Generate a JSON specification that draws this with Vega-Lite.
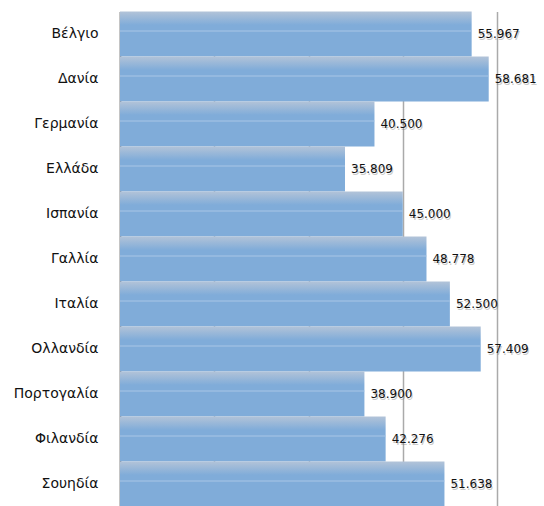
{
  "$schema": "https://vega.github.io/schema/vega-lite/v6.json",
  "autosize": "none",
  "width": 377,
  "height": 495,
  "padding": {"left": 120, "top": 11.5, "right": 47, "bottom": 0},
  "background": "white",
  "config": {"view": {"stroke": null}, "font": "DejaVu Sans"},
  "data": {
    "values": [
      {"country": "Βέλγιο", "value": 55.967},
      {"country": "Δανία", "value": 58.681},
      {"country": "Γερμανία", "value": 40.5},
      {"country": "Ελλάδα", "value": 35.809},
      {"country": "Ισπανία", "value": 45.0},
      {"country": "Γαλλία", "value": 48.778},
      {"country": "Ιταλία", "value": 52.5},
      {"country": "Ολλανδία", "value": 57.409},
      {"country": "Πορτογαλία", "value": 38.9},
      {"country": "Φιλανδία", "value": 42.276},
      {"country": "Σουηδία", "value": 51.638}
    ]
  },
  "encoding": {
    "y": {
      "field": "country",
      "type": "nominal",
      "sort": null,
      "scale": {"paddingInner": 0, "paddingOuter": 0},
      "axis": {
        "title": null,
        "ticks": false,
        "domainColor": "#555555",
        "domainWidth": 1.5,
        "labelPadding": 22,
        "labelFontSize": 14,
        "labelColor": "#111111",
        "labelFont": "DejaVu Sans"
      }
    }
  },
  "layer": [
    {
      "mark": {
        "type": "bar",
        "color": {
          "gradient": "linear",
          "x1": 0, "y1": 0, "x2": 0, "y2": 1,
          "stops": [
            {"offset": 0, "color": "#b2c3d8"},
            {"offset": 0.3, "color": "#80acd9"},
            {"offset": 1, "color": "#80acd9"}
          ]
        }
      },
      "encoding": {
        "x": {
          "field": "value",
          "type": "quantitative",
          "scale": {"domain": [0, 60], "nice": false},
          "axis": {
            "title": null,
            "labels": false,
            "ticks": false,
            "domain": false,
            "values": [0, 15, 30, 45, 60],
            "gridColor": "#aaaaaa",
            "gridWidth": 1.5
          }
        }
      }
    },
    {
      "mark": {"type": "rule", "color": "#a9c6e6", "strokeWidth": 1, "yOffset": -3},
      "encoding": {
        "x": {"field": "value", "type": "quantitative"},
        "x2": {"datum": 0}
      }
    },
    {
      "mark": {"type": "text", "align": "left", "baseline": "middle", "dx": 7, "dy": 1.5, "fontSize": 12, "color": "#666666", "opacity": 0.35},
      "encoding": {
        "x": {"field": "value", "type": "quantitative"},
        "text": {"field": "value", "type": "quantitative", "format": ".3f"}
      }
    },
    {
      "mark": {"type": "text", "align": "left", "baseline": "middle", "dx": 6, "fontSize": 12, "color": "#111111"},
      "encoding": {
        "x": {"field": "value", "type": "quantitative"},
        "text": {"field": "value", "type": "quantitative", "format": ".3f"}
      }
    }
  ]
}
